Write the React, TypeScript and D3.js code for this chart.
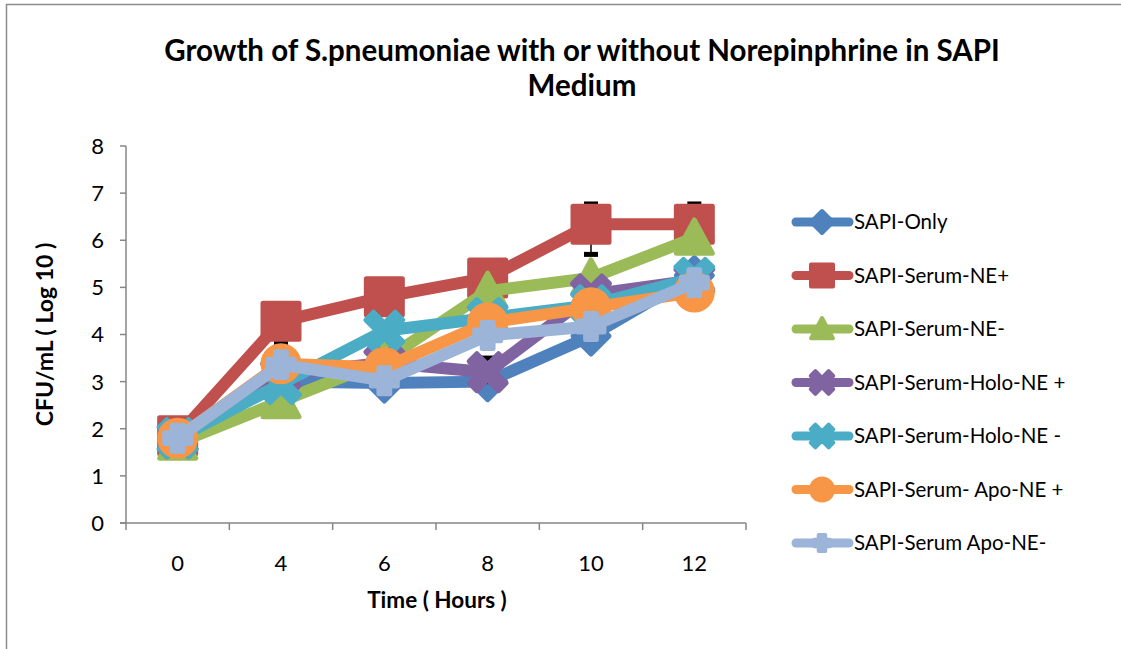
import React from "react";
import * as d3 from "d3";

const categories = ["0", "4", "6", "8", "10", "12"];
const seriesNames = [
  "SAPI-Only",
  "SAPI-Serum-NE+",
  "SAPI-Serum-NE-",
  "SAPI-Serum-Holo-NE +",
  "SAPI-Serum-Holo-NE -",
  "SAPI-Serum- Apo-NE +",
  "SAPI-Serum Apo-NE-",
];
const sapiOnly = [1.8, 3.0, 2.97, 3.0, 3.97, 5.25];
const serumNEPlus = [1.85, 4.28, 4.8, 5.2, 6.34, 6.34];
const serumNEMinus = [1.7, 2.58, 3.45, 4.92, 5.2, 6.05];
const holoNEPlus = [1.8, 3.15, 3.4, 3.2, 4.85, 5.15];
const holoNEMinus = [1.8, 2.95, 4.08, 4.35, 4.62, 5.2];
const apoNEPlus = [1.8, 3.38, 3.3, 4.25, 4.57, 4.9];
const apoNEMinus = [1.8, 3.36, 3.02, 3.98, 4.17, 5.1];
const seriesValues = [sapiOnly, serumNEPlus, serumNEMinus, holoNEPlus, holoNEMinus, apoNEPlus, apoNEMinus];
// error bars (upper / lower amounts, 0 = none)
const serumNEPlusErrUp = [0, 0.3, 0, 0, 0.43, 0.43];
const serumNEPlusErrDown = [0, 0.47, 0, 0, 0.64, 0.3];
const holoNEPlusErrUp = [0, 0, 0, 0.3, 0, 0];
const holoNEPlusErrDown = [0, 0, 0, 0.2, 0, 0];
const seriesErrUp: (number[] | null)[] = [null, serumNEPlusErrUp, null, holoNEPlusErrUp, null, null, null];
const seriesErrDown: (number[] | null)[] = [null, serumNEPlusErrDown, null, holoNEPlusErrDown, null, null, null];
const yTicks = [0, 1, 2, 3, 4, 5, 6, 7, 8];
const colors = ["#4F81BD", "#C0504D", "#9BBB59", "#8064A2", "#4BACC6", "#F79646", "#9CB4D8"];
const markerTypes = ["diamond", "square", "triangle", "x", "star", "circle", "plus"];

const FONT = "Lato, 'Open Sans', sans-serif";

function crossPath(L: number, t: number, rotate: boolean): string {
  const raw: [number, number][] = [
    [-t, -L], [t, -L], [t, -t], [L, -t], [L, t], [t, t], [t, L], [-t, L], [-t, t], [-L, t], [-L, -t], [-t, -t],
  ];
  const r = Math.SQRT1_2;
  const pts = raw.map(([x, y]) => (rotate ? [(x - y) * r, (x + y) * r] : [x, y]));
  return "M" + pts.map((p) => p.join(",")).join("L") + "Z";
}

function markerPath(type: string, s: number): string {
  const h = s / 2;
  switch (type) {
    case "diamond":
      return `M0,${-h}L${h},0L0,${h}L${-h},0Z`;
    case "square":
      return `M${-h},${-h}H${h}V${h}H${-h}Z`;
    case "triangle":
      return `M0,${-h}L${h},${h * 0.85}L${-h},${h * 0.85}Z`;
    case "circle":
      return d3.symbol(d3.symbolCircle, Math.PI * h * h)() || "";
    case "x":
    case "star":
      return crossPath(h * 1.15, h * 0.3, true);
    case "plus":
      return crossPath(h * 0.72, h * 0.3, false);
  }
  return "";
}

export default function App() {
  const width = 1121;
  const height = 649;
  const x = d3.scaleBand<string>().domain(categories).range([126, 746]);
  const y = d3.scaleLinear().domain([0, 8]).range([523, 146]);
  const cx = (c: string) => (x(c) as number) + x.bandwidth() / 2;
  const line = d3
    .line<number>()
    .x((_, i) => cx(categories[i]))
    .y((v) => y(v));
  const axisColor = "#868686";
  const bandEdges = categories.map((c) => x(c) as number).concat([746]);

  return (
    <svg
      width={width}
      height={height}
      style={{ position: "absolute", left: 0, top: 0, background: "#fff" }}
      fontFamily={FONT}
    >
      <rect x={0} y={0} width={width} height={height} fill="#fff" />
      {/* outer border */}
      <line x1={6} y1={4.5} x2={width} y2={4.5} stroke="#8c8c8c" strokeWidth={1.5} />
      <line x1={6.5} y1={4} x2={6.5} y2={height} stroke="#8c8c8c" strokeWidth={1.5} />

      {/* title */}
      <text x={582} y={61} textAnchor="middle" fontSize={29.5} fontWeight="bold" fill="#000">
        Growth of S.pneumoniae with or without Norepinphrine in SAPI
      </text>
      <text x={582} y={96} textAnchor="middle" fontSize={29.5} fontWeight="bold" fill="#000">
        Medium
      </text>

      {/* y axis */}
      <line x1={126} y1={y(8)} x2={126} y2={y(0)} stroke={axisColor} strokeWidth={1.5} />
      {yTicks.map((t) => (
        <g key={t}>
          <line x1={120} y1={y(t)} x2={126} y2={y(t)} stroke={axisColor} strokeWidth={1.5} />
          <text x={104} y={y(t)} dy="0.36em" textAnchor="end" fontSize={22} fill="#000">
            {t}
          </text>
        </g>
      ))}
      {/* x axis */}
      <line x1={120} y1={y(0)} x2={746} y2={y(0)} stroke={axisColor} strokeWidth={1.5} />
      {bandEdges.map((e, i) => (
        <line key={i} x1={e} y1={y(0)} x2={e} y2={y(0) + 7} stroke={axisColor} strokeWidth={1.5} />
      ))}
      {categories.map((c) => (
        <text key={c} x={cx(c)} y={563} dy="0.36em" textAnchor="middle" fontSize={22} fill="#000">
          {c}
        </text>
      ))}

      {/* axis titles */}
      <text x={437} y={600} dy="0.36em" textAnchor="middle" fontSize={22.5} fontWeight="bold" fill="#000">
        Time ( Hours )
      </text>
      <text
        transform={`translate(45,${y(4)}) rotate(-90)`}
        dy="0.36em"
        textAnchor="middle"
        fontSize={23}
        fontWeight="bold"
        fill="#000"
      >
        CFU/mL ( Log 10 )
      </text>

      {/* series */}
      {seriesValues.map((vals, si) => {
        const color = colors[si];
        const up = seriesErrUp[si];
        const down = seriesErrDown[si];
        return (
          <g key={si}>
            {up &&
              down &&
              vals.map((v, i) => {
                if (up[i] <= 0 && down[i] <= 0) return null;
                const px = cx(categories[i]);
                const yu = y(v + up[i]);
                const yd = y(v - down[i]);
                return (
                  <g key={"e" + i}>
                    <line x1={px} x2={px} y1={yu} y2={yd} stroke="#000" strokeWidth={1.5} />
                    <line x1={px - 7} x2={px + 7} y1={yu} y2={yu} stroke="#000" strokeWidth={5} />
                    <line x1={px - 7} x2={px + 7} y1={yd} y2={yd} stroke="#000" strokeWidth={5} />
                  </g>
                );
              })}
            <path
              d={line(vals) || ""}
              fill="none"
              stroke={color}
              strokeWidth={12}
              strokeLinejoin="round"
              strokeLinecap="round"
            />
            {vals.map((v, i) => (
              <path
                key={i}
                d={markerPath(markerTypes[si], 36)}
                transform={`translate(${cx(categories[i])},${y(v)})`}
                fill={color}
                stroke={color}
                strokeWidth={5}
                strokeLinejoin="round"
              />
            ))}
          </g>
        );
      })}

      {/* legend */}
      {seriesNames.map((name, si) => {
        const ly = 222 + si * 53.5;
        return (
          <g key={name}>
            <line x1={796} x2={849} y1={ly} y2={ly} stroke={colors[si]} strokeWidth={9} strokeLinecap="round" />
            <path
              d={markerPath(markerTypes[si], 22)}
              transform={`translate(822,${ly})`}
              fill={colors[si]}
              stroke={colors[si]}
              strokeWidth={4}
              strokeLinejoin="round"
            />
            <text x={854} y={ly} dy="0.36em" fontSize={20.5} fill="#000">
              {name}
            </text>
          </g>
        );
      })}
    </svg>
  );
}
